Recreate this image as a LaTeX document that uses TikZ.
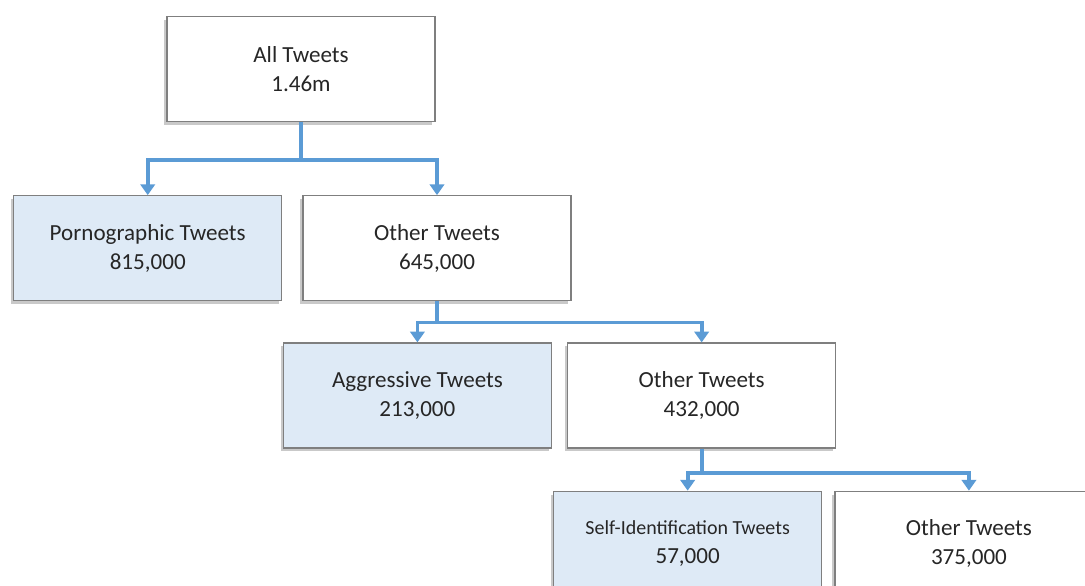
\documentclass[tikz,border=0pt]{standalone}
\usepackage{fontspec}
\setmainfont{Carlito}
\usetikzlibrary{positioning, arrows.meta, shadows}

\definecolor{hitfill}{RGB}{222,234,246}
\definecolor{boxline}{RGB}{127,127,127}
\definecolor{linkblue}{RGB}{91,155,213}

\begin{document}
\begin{tikzpicture}[
                    plainbox/.style={rectangle, draw=boxline, fill=white, line width=0.9pt, minimum width=6.7cm, minimum height=2.625cm, align=center, text=black!85, font=\fontsize{16.4}{20.6}\selectfont, drop shadow={shadow xshift=-0.07cm, shadow yshift=-0.08cm, opacity=0.3, fill=black!70}},
                    hitbox/.style={plainbox, fill=hitfill},
                    link/.style={draw=linkblue, line width=2.7pt, -{Triangle[width=0.36cm, length=0.27cm]}},
                ]
                    \useasboundingbox (-7.525,1.725) rectangle (19.6,-12.9);

                    %Nodes
                    \node[plainbox](all) at (0,0) {All Tweets\\1.46m};
                    \node[hitbox](porn)[below left=1.825cm and -2.9cm of all] {Pornographic Tweets\\815,000};
                    \node[plainbox](other1)[right=0.5cm of porn] {Other Tweets\\645,000};
                    \node[hitbox](aggr)[below=1.025cm of other1, xshift=-0.49cm] {Aggressive Tweets\\213,000};
                    \node[plainbox](other2)[right=0.375cm of aggr] {Other Tweets\\432,000};
                    \node[hitbox](self)[below=1.05cm of other2, xshift=-0.35cm] {{\fontsize{14.2}{20.6}\selectfont Self-Identification Tweets}\\57,000};
                    \node[plainbox](other3)[right=0.3cm of self] {Other Tweets\\375,000};

                    %Lines
                    \coordinate (split1) at ([yshift=-0.95cm]all.south);
                    \coordinate (split2) at ([yshift=-0.525cm]other1.south);
                    \coordinate (split3) at ([yshift=-0.6cm]other2.south);
                    \draw[link] (all.south) -- (split1) -| (porn.north);
                    \draw[link] (split1) -| (other1.north);
                    \draw[link] (other1.south) -- (split2) -| (aggr.north);
                    \draw[link] (split2) -| (other2.north);
                    \draw[link] (other2.south) -- (split3) -| (self.north);
                    \draw[link] (split3) -| (other3.north);
                \end{tikzpicture}
\end{document}
